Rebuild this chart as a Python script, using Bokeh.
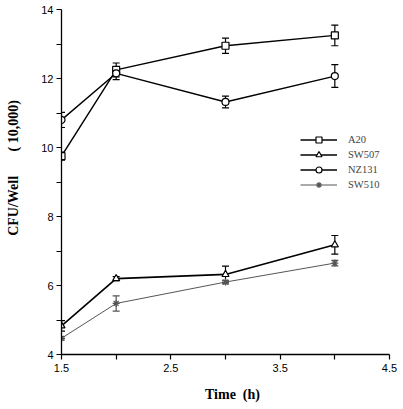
from bokeh.plotting import figure
from bokeh.models import (ColumnDataSource, Whisker, TeeHead, FixedTicker,
                          Legend, LegendItem, Range1d)
from bokeh.embed import file_html
from bokeh.resources import INLINE

# ---- data ----
time_h = [1.5, 2.0, 3.0, 4.0]
a20 = [9.75, 12.25, 12.95, 13.25]
a20_err = [0.12, 0.20, 0.22, 0.30]
sw507 = [4.83, 6.20, 6.32, 7.18]
sw507_err = [0.15, 0.06, 0.24, 0.27]
nz131 = [10.80, 12.15, 11.32, 12.07]
nz131_err = [0.22, 0.18, 0.17, 0.33]
sw510 = [4.47, 5.48, 6.10, 6.65]
sw510_err = [0.05, 0.22, 0.05, 0.08]

x_ticks = [1.5, 2.5, 3.5, 4.5]
x_minor = [2.0, 3.0, 4.0]
y_ticks = [4, 6, 8, 10, 12, 14]
y_minor = [5, 7, 9, 11, 13]

NB = "\u00a0"
x_title = NB * 4 + "Time" + NB * 2 + "(h)"
y_title = NB * 8 + "CFU/Well" + NB * 7 + "( 10,000)"

series = [
    ("A20", a20, a20_err, "square", "black", 1.4, 7),
    ("SW507", sw507, sw507_err, "triangle", "black", 1.7, 7),
    ("NZ131", nz131, nz131_err, "circle", "black", 1.4, 7),
    ("SW510", sw510, sw510_err, "asterisk", "#555555", 1.0, 7),
]

p = figure(width=403, height=409, output_backend="svg", toolbar_location=None,
           x_range=Range1d(1.5, 4.5), y_range=Range1d(4, 14),
           min_border_left=61, min_border_right=14, min_border_top=9,
           min_border_bottom=55)
p.outline_line_color = None
p.xgrid.visible = False
p.ygrid.visible = False
p.background_fill_color = "white"
p.border_fill_color = "white"

items = []
for name, ys, err, marker, color, lw, size in series:
    src = ColumnDataSource(dict(
        x=time_h, y=ys,
        upper=[v + e for v, e in zip(ys, err)],
        lower=[v - e for v, e in zip(ys, err)]))
    w = Whisker(source=src, base="x", upper="upper", lower="lower",
                line_color=color, line_width=1.2,
                upper_head=TeeHead(size=7, line_color=color, line_width=1.2),
                lower_head=TeeHead(size=7, line_color=color, line_width=1.2))
    p.add_layout(w)
    r1 = p.line("x", "y", source=src, line_color=color, line_width=lw)
    r2 = p.scatter("x", "y", source=src, marker=marker, size=size,
                   line_color=color, fill_color="white", line_width=1.2)
    items.append(LegendItem(label=name, renderers=[r1, r2]))

legend = Legend(items=items, location=(239, 162), padding=0, margin=0,
                spacing=0, glyph_width=37, glyph_height=15, label_height=15,
                label_standoff=11, border_line_alpha=0,
                background_fill_alpha=0,
                label_text_font="Liberation Serif",
                label_text_font_size="10.5px")
p.add_layout(legend)

for ax in (p.xaxis[0], p.yaxis[0]):
    ax.axis_line_width = 1.3
    ax.axis_line_color = "black"
    ax.major_tick_line_width = 1.2
    ax.minor_tick_line_width = 1.2
    ax.major_tick_line_color = "black"
    ax.minor_tick_line_color = "black"
    ax.major_tick_out = 5
    ax.major_tick_in = 0
    ax.minor_tick_out = 5
    ax.minor_tick_in = 0
    ax.major_label_text_font = "Liberation Sans"
    ax.major_label_text_font_size = "11px"
    ax.major_label_text_color = "black"
    ax.axis_label_text_font = "Liberation Serif"
    ax.axis_label_text_font_style = "bold"
    ax.axis_label_text_font_size = "14px"
    ax.axis_label_text_color = "black"

p.xaxis.ticker = FixedTicker(ticks=x_ticks, minor_ticks=x_minor)
p.yaxis.ticker = FixedTicker(ticks=y_ticks, minor_ticks=y_minor)
p.xaxis.major_label_standoff = 4
p.yaxis.major_label_standoff = 3
p.xaxis.axis_label = x_title
p.xaxis.axis_label_standoff = 12
p.yaxis.axis_label = y_title
p.yaxis.axis_label_standoff = 17

open("out.html", "w").write(file_html(p, INLINE))
